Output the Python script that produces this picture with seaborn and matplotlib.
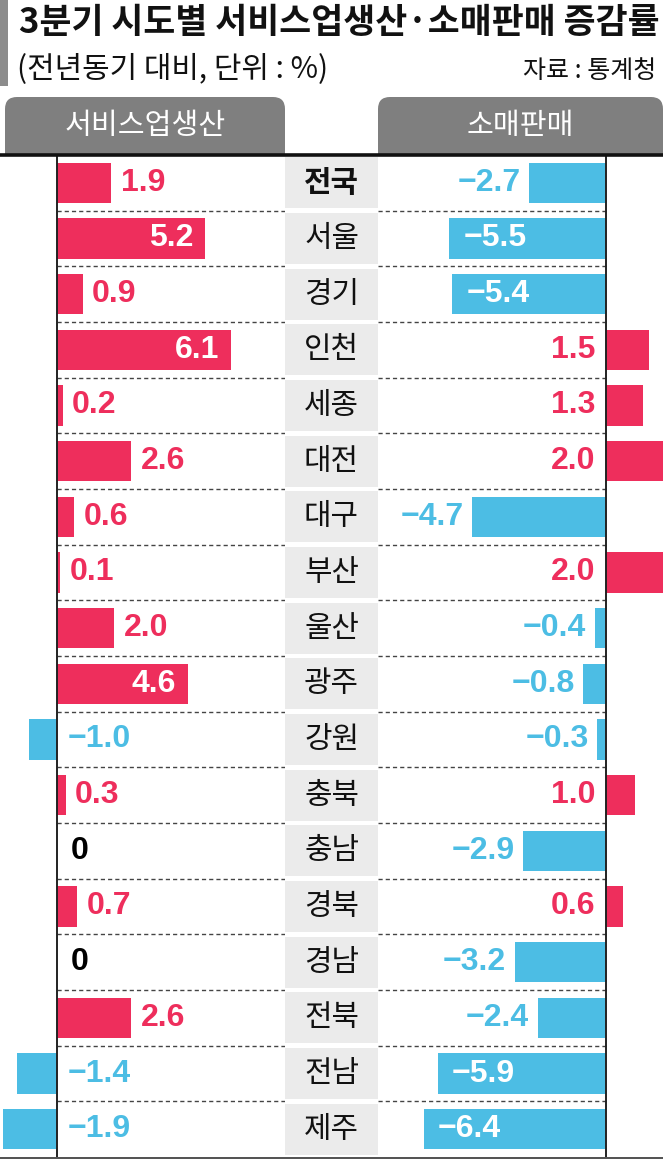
import numpy as np
import pandas as pd
import matplotlib
matplotlib.use('Agg')
import matplotlib.pyplot as plt
import seaborn as sns
from matplotlib.patches import FancyBboxPatch, Rectangle

regions = ['전국', '서울', '경기', '인천', '세종', '대전', '대구', '부산', '울산',
           '광주', '강원', '충북', '충남', '경북', '경남', '전북', '전남', '제주']
service = [1.9, 5.2, 0.9, 6.1, 0.2, 2.6, 0.6, 0.1, 2.0, 4.6, -1.0, 0.3, 0, 0.7, 0, 2.6, -1.4, -1.9]
retail = [-2.7, -5.5, -5.4, 1.5, 1.3, 2.0, -4.7, 2.0, -0.4, -0.8, -0.3, 1.0, -2.9, 0.6, -3.2, -2.4, -5.9, -6.4]
title = '3분기 시도별 서비스업생산·소매판매 증감률'
subtitle = '(전년동기 대비, 단위 : %)'
source = '자료 : 통계청'
panel_titles = ['서비스업생산', '소매판매']

RED = '#ee2e5c'
BLUE = '#4cbde4'
W, H = 663, 1159

sns.set_theme(style='white')
KR = ['Noto Sans CJK KR', 'DejaVu Sans']
NUM = ['Liberation Sans Narrow', 'Liberation Sans', 'DejaVu Sans']
plt.rcParams['font.family'] = KR

fig = plt.figure(figsize=(W / 100, H / 100), dpi=100)
fig.patch.set_facecolor('white')


def px(x0, y0, x1, y1):
    return [x0 / W, 1 - y1 / H, (x1 - x0) / W, (y1 - y0) / H]


TOP, BOT = 155, 1157
axL = fig.add_axes(px(0, TOP, 285, BOT))
axM = fig.add_axes(px(285, TOP, 378, BOT))
axR = fig.add_axes(px(378, TOP, 663, BOT))

n = len(regions)


def fmt(v):
    if v == 0:
        return '0'
    return ('\u2212' if v < 0 else '') + f'{abs(v):.1f}'


def panel(ax, values, xlim, inside_thr, side):
    df = pd.DataFrame({'region': regions, 'value': values})
    df['sign'] = np.where(df['value'] < 0, 'neg', 'pos')
    sns.barplot(data=df, x='value', y='region', hue='sign', order=regions,
                hue_order=['pos', 'neg'], palette={'pos': RED, 'neg': BLUE},
                orient='h', width=0.72, dodge=False, legend=False,
                errorbar=None, ax=ax, linewidth=0, saturation=1)
    ax.set_xlim(*xlim)
    ax.set_ylim(n - 0.5, -0.5)
    ax.axis('off')
    ax.axvline(0, color='#222222', lw=1.4, zorder=5)
    if side == 'left':
        ax.hlines([i + 0.5 for i in range(n - 1)], 0, xlim[1], colors='#444444',
                  linestyles=(0, (3, 2.2)), lw=1.0)
    else:
        ax.hlines([i + 0.5 for i in range(n - 1)], xlim[0], 0, colors='#444444',
                  linestyles=(0, (3, 2.2)), lw=1.0)
    for i, v in enumerate(values):
        txt = fmt(v)
        kw = dict(va='center', fontsize=23, fontweight='bold', family=NUM, zorder=6)
        if side == 'left':
            if v == 0:
                ax.text(0.5, i, txt, ha='left', color='black', **kw)
            elif v < 0:
                ax.text(0.38, i, txt, ha='left', color=BLUE, **kw)
            elif v > inside_thr:
                ax.text(v - 0.42, i, txt, ha='right', color='white', **kw)
            else:
                ax.text(v + 0.33, i, txt, ha='left', color=RED, **kw)
        else:
            if v > 0:
                ax.text(-0.38, i, txt, ha='right', color=RED, **kw)
            elif v < -inside_thr:
                ax.text(v + 0.5, i, txt, ha='left', color='white', **kw)
            else:
                ax.text(v - 0.3, i, txt, ha='right', color=BLUE, **kw)


panel(axL, service, (-2, 8), 4, 'left')
panel(axR, retail, (-8, 2), 5, 'right')

# middle column of region names
axM.set_xlim(0, 1)
axM.set_ylim(n - 0.5, -0.5)
axM.axis('off')
for i, r in enumerate(regions):
    axM.axhspan(i - 0.46, i + 0.46, color='#ebebeb', lw=0)
    axM.text(0.5, i, r, ha='center', va='center', fontsize=21.5,
             fontweight='bold' if i == 0 else 'normal', color='#111111',
             transform=axM.get_yaxis_transform())

# overlay for header and rules
axO = fig.add_axes([0, 0, 1, 1], zorder=10)
axO.set_xlim(0, W)
axO.set_ylim(H, 0)
axO.axis('off')
axO.patch.set_alpha(0)

axO.add_patch(Rectangle((0, 0), 8, 86, color='#8c8c8c', lw=0))
axO.text(19, 22, title, ha='left', va='center', fontsize=25, fontweight=900, color='#111111')
axO.text(17, 69, subtitle, ha='left', va='center', fontsize=21.5, color='#111111')
axO.text(656, 71, source, ha='right', va='center', fontsize=18, color='#111111')

TAB = '#7f7f7f'
for (x0, x1), label in zip([(5, 285), (378, 663)], panel_titles):
    axO.add_patch(FancyBboxPatch((x0, 97), x1 - x0, 58,
                                 boxstyle='round,pad=0,rounding_size=12',
                                 color=TAB, lw=0))
    axO.add_patch(Rectangle((x0, 125), x1 - x0, 30, color=TAB, lw=0))
    axO.text((x0 + x1) / 2, 126, label, ha='center', va='center', fontsize=21,
             color='white')

axO.plot([0, W], [155, 155], color='#111111', lw=2.6, solid_capstyle='butt')
axO.plot([0, W], [1157.5, 1157.5], color='#333333', lw=1.2, solid_capstyle='butt')

fig.savefig('out.png', dpi=100, facecolor='white')
